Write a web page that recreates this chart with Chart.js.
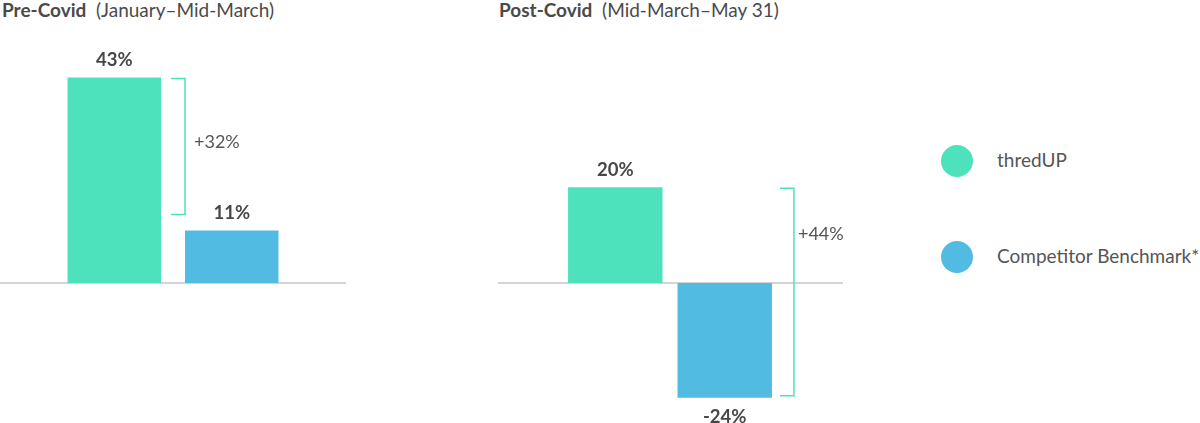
<!DOCTYPE html>
<html>
<head>
<meta charset="utf-8">
<script src="https://cdn.jsdelivr.net/npm/chart.js@4/dist/chart.umd.min.js"></script>
<style>
  body { margin: 0; width: 1200px; height: 423px; position: relative; background: #fff; overflow: hidden;
         font-family: Lato, "Open Sans", sans-serif; color: #4a4a4a; }
  .title { position: absolute; top: -1px; font-size: 19px; line-height: 22px; white-space: pre; }
  .title b { font-weight: 700; }
  .panel { position: absolute; top: 0; }
  .dot { position: absolute; left: 941px; width: 32px; height: 32px; border-radius: 50%; }
  .legtext { position: absolute; left: 997px; font-size: 19px; line-height: 22px; color: #555; white-space: pre; }
</style>
</head>
<body>
<div class="title" style="left:2px"><b>Pre-Covid</b>  (January–Mid-March)</div>
<div class="title" style="left:499px"><b>Post-Covid</b>  (Mid-March–May 31)</div>

<canvas id="pre" class="panel" width="346" height="423" style="left:0px"></canvas>
<canvas id="post" class="panel" width="348" height="423" style="left:496px"></canvas>

<div id="legend"></div>

<script>
// data
const seriesNames = ['thredUP', 'Competitor Benchmark*'];
const seriesColors = ['#4ee2bc', '#52bbe1'];
const preCovid = [43, 11];
const postCovid = [20, -24];
const gapLabels = ['+32%', '+44%'];

// legend (html)
const legendTop = [145, 241];
const legend = document.getElementById('legend');
seriesNames.forEach(function(name, i) {
  const d = document.createElement('div');
  d.className = 'dot';
  d.style.top = legendTop[i] + 'px';
  d.style.background = seriesColors[i];
  legend.appendChild(d);
  const t = document.createElement('div');
  t.className = 'legtext';
  t.style.top = (legendTop[i] + 4) + 'px';
  t.textContent = name;
  legend.appendChild(t);
});

// draws the grey zero line, the value labels and the bracket with the difference
const panelDecor = {
  id: 'panelDecor',
  beforeDatasetsDraw(chart) {
    const ctx = chart.ctx;
    const y0 = chart.scales.y.getPixelForValue(0);
    ctx.save();
    ctx.strokeStyle = '#d4d4d4';
    ctx.lineWidth = 2;
    ctx.beginPath();
    ctx.moveTo(chart.options.baseFrom, y0);
    ctx.lineTo(chart.width - chart.options.baseTo, y0);
    ctx.stroke();
    ctx.restore();
  },
  afterDatasetsDraw(chart) {
    const ctx = chart.ctx;
    const o = chart.options;
    const yScale = chart.scales.y;
    ctx.save();
    ctx.textAlign = 'center';
    ctx.textBaseline = 'middle';
    ctx.fillStyle = '#474747';
    ctx.font = 'bold 18.5px Lato';
    const bars = chart.data.datasets.map(function(ds, i) { return chart.getDatasetMeta(i).data[0]; });
    chart.data.datasets.forEach(function(ds, i) {
      const v = ds.data[0];
      const bar = bars[i];
      const y = v >= 0 ? bar.y - 17 : bar.y + 19;
      ctx.fillText(v + '%', bar.x, y);
    });

    // bracket
    const ref = bars[o.bracketBar];
    const x1 = ref.x + ref.width / 2 + o.bracketGap;
    const x2 = x1 + 14;
    const top = yScale.getPixelForValue(chart.data.datasets[0].data[0]) + 1;
    const v2 = chart.data.datasets[1].data[0];
    const bottom = yScale.getPixelForValue(v2) + o.bracketEnd;
    ctx.strokeStyle = '#4ee2bc';
    ctx.lineWidth = 1.5;
    ctx.beginPath();
    ctx.moveTo(x1, top);
    ctx.lineTo(x2, top);
    ctx.lineTo(x2, bottom);
    ctx.lineTo(x1, bottom);
    ctx.stroke();

    ctx.textAlign = 'left';
    ctx.font = '18px Lato';
    ctx.fillStyle = '#555';
    ctx.fillText(o.gapText, x2 + o.gapTextDx, top + o.gapTextDy);
    ctx.restore();
  }
};

function makePanel(id, values, gapText, extra) {
  const datasets = values.map(function(v, i) {
    return {
      label: seriesNames[i],
      data: [v],
      backgroundColor: seriesColors[i],
      categoryPercentage: extra.catPct,
      barPercentage: extra.barPct
    };
  });
  return new Chart(document.getElementById(id), {
    type: 'bar',
    data: { labels: [''], datasets: datasets },
    options: Object.assign({
      responsive: false,
      animation: false,
      layout: { padding: { top: 20, bottom: 20.5, left: 0, right: 0 } },
      scales: {
        x: { display: false },
        y: { display: false, min: -25, max: 55 }
      },
      plugins: { legend: { display: false }, tooltip: { enabled: false } },
      gapText: gapText
    }, extra),
    plugins: [panelDecor]
  });
}

makePanel('pre', preCovid, gapLabels[0], {
  catPct: 0.679, barPct: 0.796,
  baseFrom: 0, baseTo: 0,
  bracketBar: 0, bracketGap: 10, bracketEnd: -16,
  gapTextDx: 9, gapTextDy: 64
});
makePanel('post', postCovid, gapLabels[1], {
  catPct: 0.629, barPct: 0.863,
  baseFrom: 2, baseTo: 1,
  bracketBar: 1, bracketGap: 8, bracketEnd: -2,
  gapTextDx: 4, gapTextDy: 46
});
</script>
</body>
</html>
